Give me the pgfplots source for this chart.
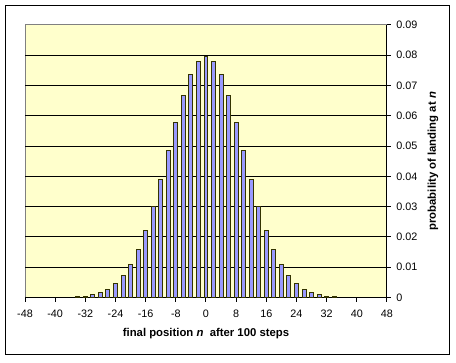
\documentclass[border=0pt]{standalone}
\usepackage{pgfplots}
\pgfplotsset{compat=1.18}
\usepackage{fontspec}
\setmainfont{Liberation Sans}
\definecolor{bgyellow}{HTML}{FFFFCC}
\definecolor{barblue}{HTML}{9999FF}
\definecolor{baredge}{HTML}{333300}
\begin{document}
\begin{tikzpicture}
\path[use as bounding box] (0,0) rectangle (342pt,271.5pt);
\draw[black, line width=0.75pt] (3.75pt,6pt) rectangle (336.75pt,267.75pt);
\begin{axis}[
  at={(18.75pt,48.375pt)}, anchor=south west,
  scale only axis, width=271.5pt, height=204.4pt,
  xmin=-48, xmax=48, ymin=0, ymax=0.09,
  enlargelimits=false,
  axis background/.style={fill=bgyellow, draw=gray, line width=0.75pt},
  axis x line*=bottom, axis y line*=right,
  axis line style={black, line width=0.75pt, -},
  tick align=outside, major tick length=3pt,
  tick style={black, line width=0.75pt},
  xtick={-48,-40,...,48},
  ytick={0,0.01,...,0.09},
  scaled y ticks=false,
  extra y ticks={0.01,0.02,0.03,0.04,0.05,0.06,0.07,0.08},
  extra y tick style={grid=major, major grid style={black, line width=0.75pt}, yticklabels={}, major tick length=0pt},
  /pgf/number format/assume math mode=true,
  yticklabel style={/pgf/number format/fixed, /pgf/number format/precision=2, anchor=west, xshift=0.5pt},
  xticklabel style={yshift=-3pt},
  ticklabel style={font=\fontsize{8.1}{9}\selectfont},
  xlabel={\bfseries final position \textit{n}\; after 100 steps},
  ylabel={\bfseries probability of landing at \textit{n}},
  label style={font=\fontsize{8.5}{9}\selectfont},
  xlabel style={at={(rel axis cs:0.5,0)}, anchor=center, yshift=-27.4pt},
  ylabel style={at={(rel axis cs:1,0.5)}, anchor=center, yshift=-34.5pt},
  clip=false,
]
\addplot[ybar, bar width=1.05, fill=barblue, draw=baredge, line width=0.75pt] coordinates {
(-34,0.00023247) (-32,0.00045809) (-30,0.00086383) (-28,0.0015597) (-26,0.0026978)
(-24,0.0044728) (-22,0.0071107) (-20,0.0108438) (-18,0.0158690) (-16,0.0222922)
(-14,0.0300686) (-12,0.0389526) (-10,0.0484743) (-8,0.0579584) (-6,0.0665904)
(-4,0.0735270) (-2,0.0780286) (0,0.0795892) (2,0.0780286) (4,0.0735270)
(6,0.0665904) (8,0.0579584) (10,0.0484743) (12,0.0389526) (14,0.0300686)
(16,0.0222922) (18,0.0158690) (20,0.0108438) (22,0.0071107) (24,0.0044728)
(26,0.0026978) (28,0.0015597) (30,0.00086383) (32,0.00045809) (34,0.00023247)
};
\end{axis}
\end{tikzpicture}
\end{document}
